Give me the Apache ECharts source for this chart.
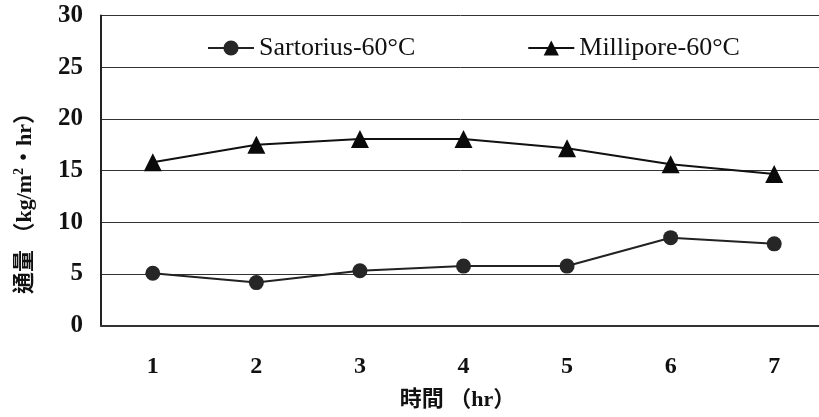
<!DOCTYPE html>
<html>
<head>
<meta charset="utf-8">
<script src="https://cdn.jsdelivr.net/npm/echarts@6/dist/echarts.min.js"></script>
<style>
  html, body { margin: 0; padding: 0; background: #fff; }
  #chart { width: 819px; height: 417px; }
</style>
</head>
<body>
<div id="chart"></div>
<script>
// Flux over time for two membranes at 60 °C
const hours = ['1', '2', '3', '4', '5', '6', '7'];
const sartorius = [5.05, 4.15, 5.3, 5.75, 5.75, 8.5, 7.9];
const millipore = [15.8, 17.5, 18.05, 18.05, 17.15, 15.6, 14.65];
const yTicks = [0, 5, 10, 15, 20, 25, 30];

const serif = '"Liberation Serif", "Noto Sans CJK TC", serif';

const chart = echarts.init(document.getElementById('chart'), null, { renderer: 'canvas' });
chart.setOption({
  animation: false,
  backgroundColor: '#fff',
  grid: { left: 101, top: 15.5, width: 725, bottom: 91.5, containLabel: false, outerBoundsMode: 'none' },
  legend: {
    top: 30,
    left: 202,
    itemWidth: 46,
    itemHeight: 19,
    itemGap: 112,
    textStyle: { fontFamily: serif, fontSize: 26, color: '#111' },
    data: ['Sartorius-60°C', 'Millipore-60°C']
  },
  xAxis: {
    type: 'category',
    data: hours,
    boundaryGap: true,
    name: '時間 （hr）',
    nameLocation: 'middle',
    nameGap: 64,
    nameTextStyle: { fontFamily: serif, fontSize: 22, fontWeight: 'bold', color: '#111', padding: [0, 12, 0, 0] },
    axisLine: { lineStyle: { color: '#333', width: 2 } },
    axisTick: { inside: true, length: 8, lineStyle: { color: '#333', width: 1 } },
    axisLabel: { margin: 29, fontFamily: serif, fontSize: 24, fontWeight: 'bold', color: '#111' }
  },
  yAxis: {
    type: 'value',
    min: yTicks[0],
    max: yTicks[yTicks.length - 1],
    interval: 5,
    name: '通量 （kg/m{sup|2}・hr）',
    nameLocation: 'middle',
    nameRotate: 90,
    nameGap: 63,
    nameTextStyle: {
      fontFamily: serif, fontSize: 22, fontWeight: 'bold', color: '#111',
      padding: [0, 55, 0, 0],
      rich: { sup: { fontFamily: serif, fontSize: 14, fontWeight: 'bold', color: '#111', padding: [0, 0, 12, 0] } }
    },
    axisLine: { show: true, lineStyle: { color: '#222', width: 2 } },
    axisTick: { show: false },
    axisLabel: { margin: 18, fontFamily: serif, fontSize: 25, fontWeight: 'bold', color: '#111' },
    splitLine: { lineStyle: { color: '#333', width: 1 } }
  },
  series: [
    {
      name: 'Sartorius-60°C',
      type: 'line',
      data: sartorius,
      symbol: 'circle',
      symbolSize: 15,
      itemStyle: { color: '#262626' },
      lineStyle: { color: '#222', width: 2 }
    },
    {
      name: 'Millipore-60°C',
      type: 'line',
      data: millipore,
      symbol: 'triangle',
      symbolSize: 18,
      itemStyle: { color: '#0a0a0a' },
      lineStyle: { color: '#111', width: 2 }
    }
  ]
});
</script>
</body>
</html>
